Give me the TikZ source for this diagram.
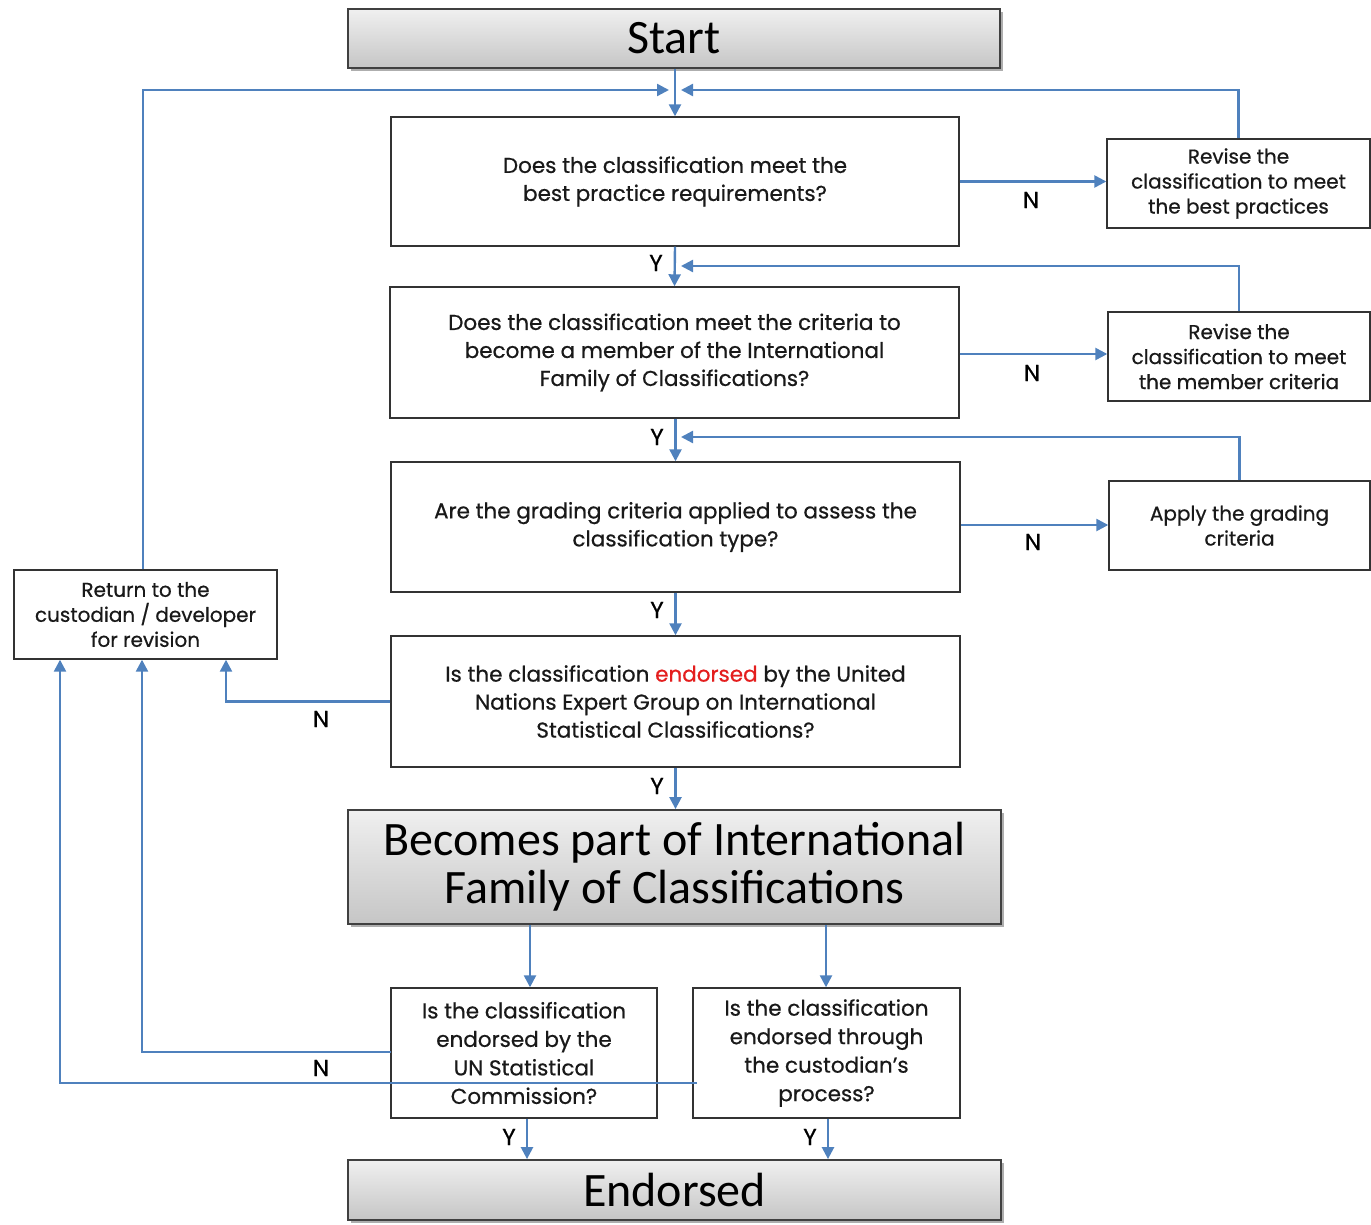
\documentclass[tikz,border=0pt]{standalone}
\usepackage{fontspec}
\setmainfont{Poppins}[FakeBold=0.6]
\newfontfamily\bigfont{Carlito}
\usetikzlibrary{arrows.meta,shadows}
\definecolor{lineblue}{RGB}{79,129,189}
\definecolor{endred}{RGB}{228,30,30}
\tikzset{
  qbox/.style={draw=black!80, line width=1.4pt, fill=white, align=center, inner sep=0pt,
    font=\fontsize{21.5}{28}\selectfont, text=black!90},
  sbox/.style={qbox, font=\fontsize{20}{25}\selectfont},
  gbox/.style={draw=black!75, line width=1.8pt, top color=gray!12, bottom color=gray!45,
    align=center, inner sep=0pt, text=black,
    drop shadow={shadow xshift=3pt, shadow yshift=-3pt, opacity=0.45, fill=black!70}},
  conn/.style={draw=lineblue, line width=2.4pt, -{Triangle[length=12pt,width=12pt]}},
  yn/.style={font=\fontsize{23}{25}\selectfont, text=black, inner sep=0pt}
}
\begin{document}
\begin{tikzpicture}[x=1pt,y=-1pt]
\useasboundingbox (0,0) rectangle (1371,1225);
% terminal boxes
\node[gbox, minimum width=652pt, minimum height=59pt, font=\bigfont\fontsize{48}{50}\selectfont] (start) at (674,38.5) {Start};
\node[gbox, minimum width=653pt, minimum height=114pt, font=\bigfont\fontsize{48}{48}\selectfont] (becomes) at (674.5,867) {Becomes part of International\\Family of Classifications};
\node[gbox, minimum width=653pt, minimum height=60pt, font=\bigfont\fontsize{48}{50}\selectfont] (endorsed) at (674.5,1190) {Endorsed};
% question boxes
\node[qbox, minimum width=568pt, minimum height=129pt] (q1) at (675,181.5) {Does the classification meet the\\best practice requirements?};
\node[qbox, minimum width=569pt, minimum height=131pt] (q2) at (674.5,352.5) {Does the classification meet the criteria to\\become a member of the International\\Family of Classifications?};
\node[qbox, minimum width=569pt, minimum height=130pt] (q3) at (675.5,527) {Are the grading criteria applied to assess the\\classification type?};
\node[qbox, minimum width=569pt, minimum height=131pt] (q4) at (675.5,701.5) {Is the classification \textcolor{endred}{endorsed} by the United\\Nations Expert Group on International\\Statistical Classifications?};
% side boxes
\node[sbox, minimum width=263pt, minimum height=89pt] (r1) at (1238.5,183.5) {Revise the\\classification to meet\\the best practices};
\node[sbox, minimum width=262pt, minimum height=89pt] (r2) at (1239,356.5) {Revise the\\classification to meet\\the member criteria};
\node[sbox, minimum width=261pt, minimum height=89pt] (r3) at (1239.5,525.5) {Apply the grading\\criteria};
\node[sbox, minimum width=263pt, minimum height=89pt] (ret) at (145.5,614.5) {Return to the\\custodian / developer\\for revision};
% bottom question boxes
\node[qbox, font=\fontsize{21.5}{28.5}\selectfont, minimum width=266pt, minimum height=130pt] (s1) at (524,1053) {Is the classification\\endorsed by the\\UN Statistical\\Commission?};
\node[qbox, font=\fontsize{21.5}{28.5}\selectfont, minimum width=267pt, minimum height=130pt] (s2) at (826.5,1053) {Is the classification\\endorsed through\\the custodian’s\\process?};
% junction points
\coordinate (jl) at (669,90);
\coordinate (jr) at (681,90);
\coordinate (j2) at (681,266);
\coordinate (j3) at (681,437);
% main flow
\draw[conn] (start.south -| q1.north) -- (q1.north);
\draw[conn] (q1.south) -- (q2.north);
\draw[conn] (q2.south -| q3.north) -- (q3.north);
\draw[conn] (q3.south) -- (q4.north);
\draw[conn] (q4.south) -- (q4.south |- becomes.north);
% loops back
\draw[conn] (ret.north -| 143,0) |- (jl);
\draw[conn] (r1.north) |- (jr);
\draw[conn] (r2.north) |- (j2);
\draw[conn] (r3.north) |- (j3);
% N branches
\draw[conn] (q1.east) -- (r1.west |- q1.east);
\draw[conn] (q2.east |- 0,354) -- (r2.west |- 0,354);
\draw[conn] (q3.east |- 0,525) -- (r3.west |- 0,525);
\draw[conn] (q4.west) -| (226,0 |- ret.south);
\coordinate (s1n) at (391,1052);
\coordinate (s2n) at (697,1083);
\draw[conn] (s1n) -| (142,0 |- ret.south);
\draw[conn] (s2n) -| (60,0 |- ret.south);
% to bottom boxes
\draw[conn] (becomes.south -| 530,0) -- (530,0 |- s1.north);
\draw[conn] (becomes.south -| 826,0) -- (826,0 |- s2.north);
\draw[conn] (s1.south -| 527,0) -- (527,0 |- endorsed.north);
\draw[conn] (s2.south -| 828,0) -- (828,0 |- endorsed.north);
% labels
\node[yn] (n1) at (1031,200) {N};
\node[yn] (n2) at (1032,373) {N};
\node[yn] (n3) at (1033,542) {N};
\node[yn] (n4) at (321,719) {N};
\node[yn] (n5) at (321,1068) {N};
\node[yn] (y1) at (656,263) {Y};
\node[yn] (y2) at (657,437) {Y};
\node[yn] (y3) at (657,610) {Y};
\node[yn] (y4) at (657,786) {Y};
\node[yn] (y5) at (509,1137) {Y};
\node[yn] (y6) at (810,1137) {Y};
\end{tikzpicture}
\end{document}
